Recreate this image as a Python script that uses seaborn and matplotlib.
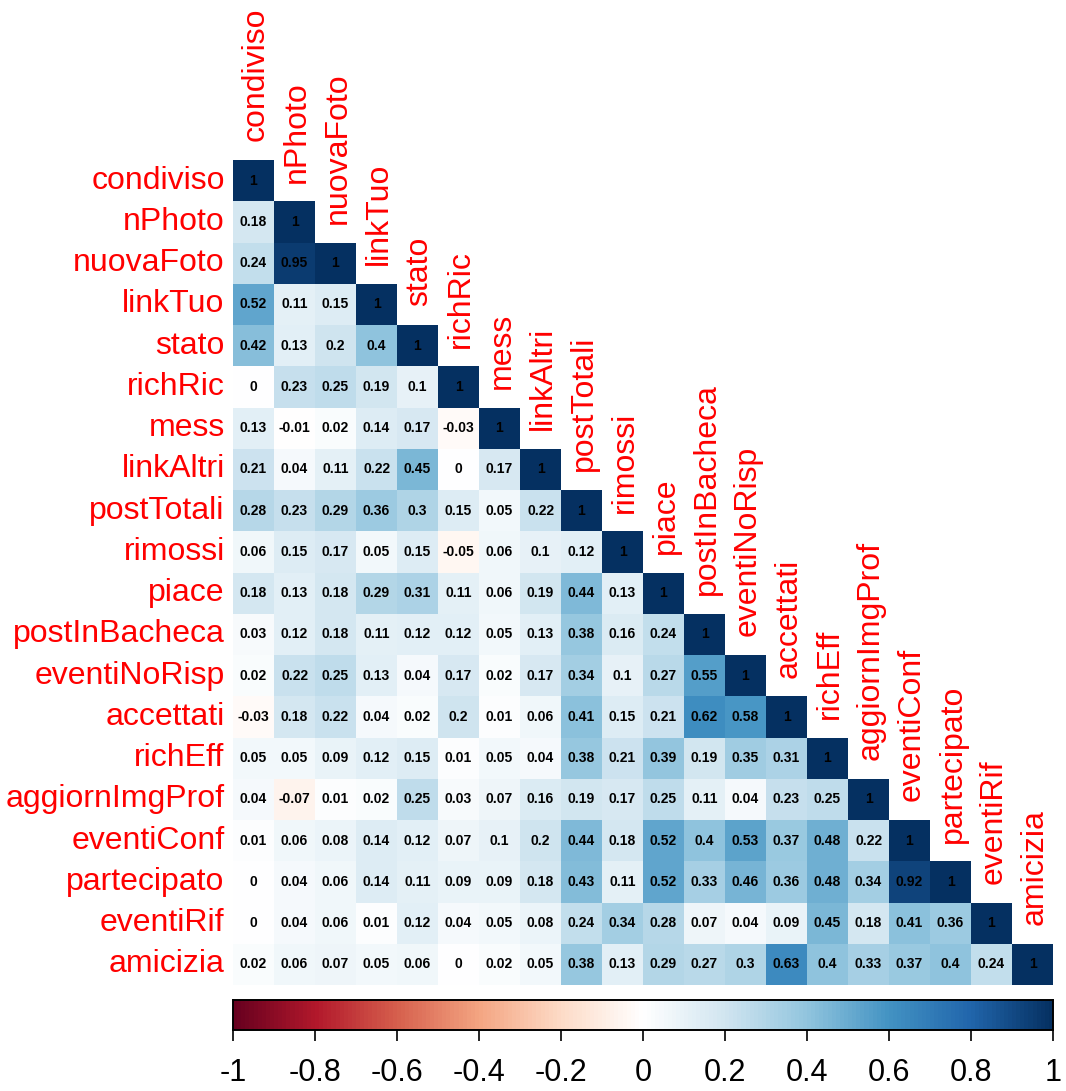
import numpy as np
import pandas as pd
import matplotlib
matplotlib.use("Agg")
import matplotlib.pyplot as plt
from matplotlib.colors import LinearSegmentedColormap
import seaborn as sns

variables = ["condiviso", "nPhoto", "nuovaFoto", "linkTuo", "stato", "richRic",
             "mess", "linkAltri", "postTotali", "rimossi", "piace", "postInBacheca",
             "eventiNoRisp", "accettati", "richEff", "aggiornImgProf", "eventiConf",
             "partecipato", "eventiRif", "amicizia"]

# lower-triangle correlations, one list per row (diagonal included)
r_condiviso = [1]
r_nPhoto = [0.18, 1]
r_nuovaFoto = [0.24, 0.95, 1]
r_linkTuo = [0.52, 0.11, 0.15, 1]
r_stato = [0.42, 0.13, 0.2, 0.4, 1]
r_richRic = [0, 0.23, 0.25, 0.19, 0.1, 1]
r_mess = [0.13, -0.01, 0.02, 0.14, 0.17, -0.03, 1]
r_linkAltri = [0.21, 0.04, 0.11, 0.22, 0.45, 0, 0.17, 1]
r_postTotali = [0.28, 0.23, 0.29, 0.36, 0.3, 0.15, 0.05, 0.22, 1]
r_rimossi = [0.06, 0.15, 0.17, 0.05, 0.15, -0.05, 0.06, 0.1, 0.12, 1]
r_piace = [0.18, 0.13, 0.18, 0.29, 0.31, 0.11, 0.06, 0.19, 0.44, 0.13, 1]
r_postInBacheca = [0.03, 0.12, 0.18, 0.11, 0.12, 0.12, 0.05, 0.13, 0.38, 0.16, 0.24, 1]
r_eventiNoRisp = [0.02, 0.22, 0.25, 0.13, 0.04, 0.17, 0.02, 0.17, 0.34, 0.1, 0.27, 0.55, 1]
r_accettati = [-0.03, 0.18, 0.22, 0.04, 0.02, 0.2, 0.01, 0.06, 0.41, 0.15, 0.21, 0.62,
               0.58, 1]
r_richEff = [0.05, 0.05, 0.09, 0.12, 0.15, 0.01, 0.05, 0.04, 0.38, 0.21, 0.39, 0.19,
             0.35, 0.31, 1]
r_aggiornImgProf = [0.04, -0.07, 0.01, 0.02, 0.25, 0.03, 0.07, 0.16, 0.19, 0.17, 0.25,
                    0.11, 0.04, 0.23, 0.25, 1]
r_eventiConf = [0.01, 0.06, 0.08, 0.14, 0.12, 0.07, 0.1, 0.2, 0.44, 0.18, 0.52, 0.4,
                0.53, 0.37, 0.48, 0.22, 1]
r_partecipato = [0, 0.04, 0.06, 0.14, 0.11, 0.09, 0.09, 0.18, 0.43, 0.11, 0.52, 0.33,
                 0.46, 0.36, 0.48, 0.34, 0.92, 1]
r_eventiRif = [0, 0.04, 0.06, 0.01, 0.12, 0.04, 0.05, 0.08, 0.24, 0.34, 0.28, 0.07,
               0.04, 0.09, 0.45, 0.18, 0.41, 0.36, 1]
r_amicizia = [0.02, 0.06, 0.07, 0.05, 0.06, 0, 0.02, 0.05, 0.38, 0.13, 0.29, 0.27, 0.3,
              0.63, 0.4, 0.33, 0.37, 0.4, 0.24, 1]

rows = [r_condiviso, r_nPhoto, r_nuovaFoto, r_linkTuo, r_stato, r_richRic, r_mess,
        r_linkAltri, r_postTotali, r_rimossi, r_piace, r_postInBacheca, r_eventiNoRisp,
        r_accettati, r_richEff, r_aggiornImgProf, r_eventiConf, r_partecipato,
        r_eventiRif, r_amicizia]

cbar_ticks = [-1, -0.8, -0.6, -0.4, -0.2, 0, 0.2, 0.4, 0.6, 0.8, 1]

# diverging red-white-blue palette with a pure white centre
palette = ["#67001F", "#B2182B", "#D6604D", "#F4A582", "#FDDBC7", "#FFFFFF",
           "#D1E5F0", "#92C5DE", "#4393C3", "#2166AC", "#053061"]
cmap = LinearSegmentedColormap.from_list("rdbu_white", palette, N=200)

n = len(variables)
mat = np.full((n, n), np.nan)
for i, row in enumerate(rows):
    mat[i, :len(row)] = row
corr = pd.DataFrame(mat, index=variables, columns=variables)
mask = np.triu(np.ones((n, n), dtype=bool), k=1)
labels = np.array([[f"{v:g}" if not np.isnan(v) else "" for v in r] for r in mat])

sns.set_style("white")
plt.rcParams["font.family"] = ["Liberation Sans", "DejaVu Sans"]

W, H = 1066, 1091
fig = plt.figure(figsize=(W / 100, H / 100), dpi=100)
ax = fig.add_axes([233 / W, 1 - 985 / H, 820 / W, 825 / H])
cax = fig.add_axes([233 / W, 1 - 1030 / H, 820 / W, 30 / H])

sns.heatmap(corr, mask=mask, cmap=cmap, vmin=-1, vmax=1, ax=ax, cbar_ax=cax,
            cbar_kws={"orientation": "horizontal", "ticks": cbar_ticks},
            annot=labels, fmt="", linewidths=0,
            annot_kws={"color": "black", "fontsize": 10, "fontweight": "bold"},
            square=False)

ax.set_xticks([])
ax.set_xlabel("")
ax.set_ylabel("")
ax.set_yticks(np.arange(n) + 0.5)
ax.set_yticklabels(variables, color="red", fontsize=23)
ax.tick_params(axis="y", length=0, pad=6)
for s in ax.spines.values():
    s.set_visible(False)

# column names stacked along the diagonal
for j, name in enumerate(variables):
    ax.text(j + 0.55, j - 0.45, name, rotation=90, ha="center", va="bottom",
            color="red", fontsize=23, clip_on=False)

cax.tick_params(axis="x", direction="out", length=8, width=1.2, color="black",
                labelcolor="black", labelsize=22, pad=12, bottom=True)
for s in cax.spines.values():
    s.set_visible(True)
    s.set_color("black")
    s.set_linewidth(1.2)
cax.set_xticklabels([f"{t:g}" for t in cbar_ticks])

fig.savefig("out.png", dpi=100, facecolor="white")
